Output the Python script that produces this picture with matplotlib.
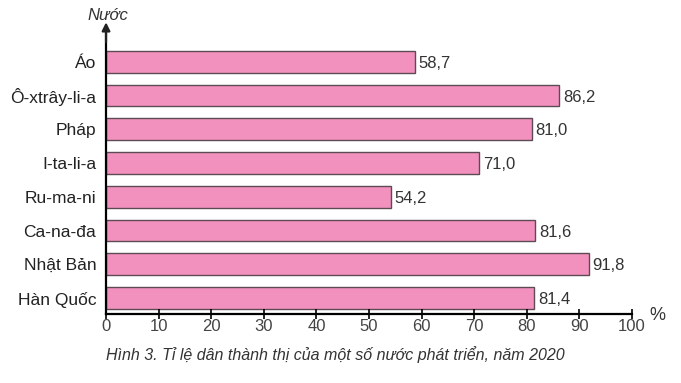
import matplotlib.pyplot as plt
import numpy as np

plt.rcParams['font.family'] = ['Liberation Sans', 'DejaVu Sans']

countries = ["Áo", "Ô-xtrây-li-a", "Pháp", "I-ta-li-a", "Ru-ma-ni", "Ca-na-đa", "Nhật Bản", "Hàn Quốc"]
values = [58.7, 86.2, 81.0, 71.0, 54.2, 81.6, 91.8, 81.4]
xticks = [0, 10, 20, 30, 40, 50, 60, 70, 80, 90, 100]

fig = plt.figure(figsize=(6.81, 3.83), dpi=100)
ax = fig.add_axes([0.1557, 0.180, 0.7723, 0.747])

y = np.arange(len(countries))[::-1]
ax.barh(y, values, height=0.64, color='#f291be', edgecolor='#5e4a55', linewidth=1.0)

for yi, v in zip(y, values):
    ax.text(v + 0.7, yi - 0.05, f'{v:.1f}'.replace('.', ','), va='center', ha='left',
            fontsize=12, color='#333333')

ax.set_xlim(0, 100)
ax.set_ylim(-0.475, 8.0)
ax.set_yticks(y)
ax.set_yticklabels(countries, fontsize=12.5, color='#222222')
ax.set_xticks(xticks)
ax.set_xticklabels([str(t) for t in xticks], fontsize=12, color='#444444')

for s in ['top', 'right']:
    ax.spines[s].set_visible(False)
ax.spines['left'].set_linewidth(1.6)
ax.spines['bottom'].set_linewidth(1.6)
ax.tick_params(axis='x', direction='inout', length=7, width=1.2, pad=0)
ax.tick_params(axis='y', length=0, pad=7)

# arrow on y axis
ax.annotate('', xy=(0, 8.25), xytext=(0, 7.5), xycoords='data',
            arrowprops=dict(arrowstyle='-|>', color='#222222', lw=1.6, mutation_scale=12),
            annotation_clip=False)

fig.text(108 / 681, 1 - 15 / 383, 'Nước', style='italic', fontsize=12, ha='center', va='center',
         color='#333333')
fig.text(657 / 681, 1 - 316 / 383, '%', fontsize=13, ha='center', va='center', color='#333333')
fig.text(335 / 681, 1 - 355 / 383, 'Hình 3. Tỉ lệ dân thành thị của một số nước phát triển, năm 2020',
         style='italic', fontsize=11.5, ha='center', va='center', color='#333333')

fig.savefig('out.png', dpi=100)
